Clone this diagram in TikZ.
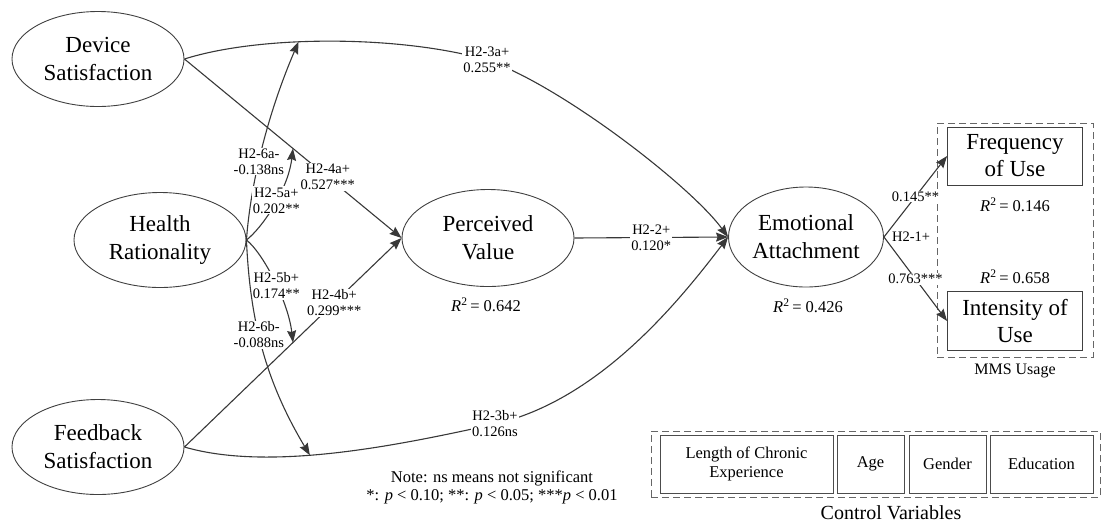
\documentclass[tikz,border=0pt]{standalone}
\usepackage{fontspec}
\setmainfont{Liberation Serif}
\usetikzlibrary{shapes.geometric,arrows.meta,positioning}

\tikzset{
  construct/.style={ellipse, draw=black!75, line width=0.9pt, minimum width=172pt,
    minimum height=95pt, inner sep=0pt, align=center, font=\fontsize{23}{28}\selectfont},
  measure/.style={rectangle, draw=black!75, line width=0.9pt, minimum width=135pt,
    minimum height=58pt, inner sep=0pt, align=center, font=\fontsize{23}{27}\selectfont},
  control/.style={rectangle, draw=black!70, line width=0.9pt, minimum height=58pt,
    inner sep=0pt, align=center, font=\fontsize{16.5}{19}\selectfont},
  group/.style={rectangle, draw=black!60, dash pattern=on 7pt off 4pt, line width=0.9pt, inner sep=0pt},
  link/.style={draw=black!78, line width=1.1pt, -{Stealth[length=12pt,width=9pt,inset=1.5pt]}},
  lbl/.style={fill=white, inner sep=1pt, align=center, font=\fontsize{14.5}{16}\selectfont},
  rsq/.style={inner sep=1pt, font=\fontsize{16.5}{18}\selectfont},
}

\begin{document}
\begin{tikzpicture}[x=1pt,y=-1pt]
   \useasboundingbox (0,0) rectangle (1102,523);

   % constructs
   \node[construct] (ds) at (98,59)  {Device\\Satisfaction};
   \node[construct] (hr) at (160,240) {Health\\Rationality};
   \node[construct] (fs) at (98,447) {Feedback\\Satisfaction};
   \node[construct, minimum height=97pt] (pv) at (488,238) {Perceived\\Value};
   \node[construct, minimum width=155pt, minimum height=100pt] (ea) at (806,237) {Emotional\\Attachment};

   % MMS usage
   \node[group, minimum width=156pt, minimum height=234pt] (mms) at (1015,240) {};
   \node[measure] (fu) at (1015,156) {Frequency\\of Use};
   \node[measure, minimum height=59pt] (iu) at (1015,321) {Intensity of\\Use};
   \node[font=\fontsize{16}{18}\selectfont] (mmslab) at (1015,371) {MMS Usage};

   % R squared
   \node[rsq] (r2pv) at (486,305) {\textit{R}\textsuperscript{2}\,= 0.642};
   \node[rsq] (r2ea) at (808,306) {\textit{R}\textsuperscript{2}\,= 0.426};
   \node[rsq] (r2fu) at (1015,205) {\textit{R}\textsuperscript{2}\,= 0.146};
   \node[rsq] (r2iu) at (1015,277) {\textit{R}\textsuperscript{2}\,= 0.658};

   % direct paths
   \draw[link] (ds.east) .. controls (260,35) and (400,35) .. (487,60)
                coordinate[pos=0.4] (t6a) node[lbl] {H2-3a+\\0.255**}
                .. controls (560,85) and (690,185) .. (ea.west);
   \draw[link] (fs.east) .. controls (270,472) and (400,445) .. (495,424)
                coordinate[pos=0.42] (t6b) node[lbl] {H2-3b+\\0.126ns}
                .. controls (600,400) and (680,300) .. (ea.west);
   \draw[link] (ds.east) -- node[lbl, pos=0.66] {H2-4a+\\0.527***}
                coordinate[pos=0.5] (t5a) (pv.west);
   \draw[link] (fs.east) -- node[lbl, pos=0.69] {H2-4b+\\0.299***}
                coordinate[pos=0.5] (t5b) (pv.west);
   \draw[link] (pv.east) -- node[lbl] {H2-2+\\0.120*} (ea.west);
   \draw[link] (ea.east) -- node[lbl] {0.145**} (fu.west);
   \draw[link] (ea.east) -- node[lbl] {0.763***} (iu.west);
   \node[lbl, fill=none, right=7pt of ea.east] (h21) {H2-1+};

   % moderating paths
   \draw[link] (hr.east) .. controls (250,190) and (265,120) .. (t6a)
                node[lbl, pos=0.45] {H2-6a-\\-0.138ns};
   \draw[link] (hr.east) .. controls (262,228) and (288,190) .. (t5a)
                node[lbl, pos=0.55] {H2-5a+\\0.202**};
   \draw[link] (hr.east) .. controls (262,252) and (288,300) .. (t5b)
                node[lbl, pos=0.55] {H2-5b+\\0.174**};
   \draw[link] (hr.east) .. controls (250,320) and (265,380) .. (t6b)
                node[lbl, pos=0.43] {H2-6b-\\-0.088ns};

   % note
   \node[align=center, font=\fontsize{16.5}{18}\selectfont] (note) at (492,487)
        {Note: ns means not significant\\*: \textit{p} < 0.10; **: \textit{p} < 0.05; ***\textit{p} < 0.01};

   % control variables
   \node[group, minimum width=449pt, minimum height=66pt] (cv) at (875.5,464) {};
   \node[control, minimum width=173pt] (len) at (746.5,464) {Length of Chronic\\Experience};
   \node[control, minimum width=67pt] (age) at (870.5,464) {Age};
   \node[control, minimum width=77pt] (gen) at (947.5,464) {Gender};
   \node[control, minimum width=103pt] (edu) at (1041.5,464) {Education};
   \node[font=\fontsize{20}{22}\selectfont] (cvlab) at (891,513) {Control Variables};

\end{tikzpicture}
\end{document}
